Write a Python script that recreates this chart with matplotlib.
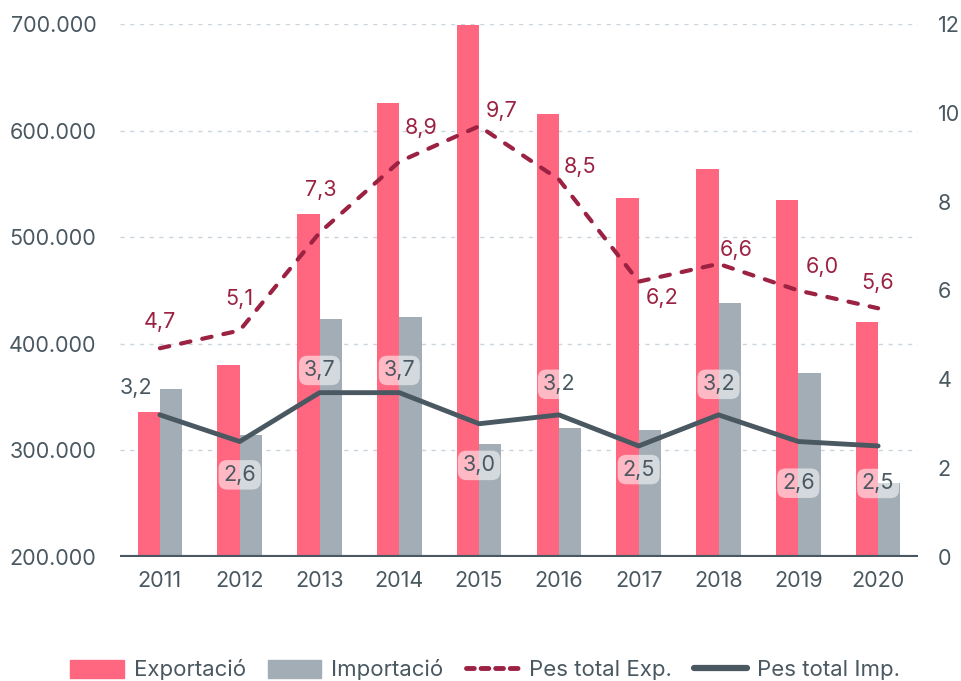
import numpy as np
import matplotlib.pyplot as plt
from matplotlib.patches import Patch
from matplotlib.lines import Line2D
from matplotlib.ticker import FuncFormatter

plt.rcParams['font.family'] = ['Inter', 'DejaVu Sans']

# data
years = ['2011', '2012', '2013', '2014', '2015', '2016', '2017', '2018', '2019', '2020']
exportacio = [336000, 380000, 522000, 626000, 699000, 616000, 537000, 564000, 535000, 420000]
importacio = [358000, 314000, 423000, 425000, 306000, 321000, 319000, 438000, 373000, 269000]
pes_exp = [4.7, 5.1, 7.3, 8.9, 9.7, 8.5, 6.2, 6.6, 6.0, 5.6]
pes_imp = [3.2, 2.6, 3.7, 3.7, 3.0, 3.2, 2.5, 3.2, 2.6, 2.5]

# label offsets (points) and whether import labels have a box
exp_offsets = [(0, 19), (0, 23), (1, 31), (16, 24), (16, 11), (15, 9), (17, -12), (13, 10), (17, 17), (0, 18)]
imp_offsets = [(-17, 19), (0, -24), (0, 16), (0, 16), (0, -30), (0, 22), (0, -17), (0, 22), (0, -30), (0, -27)]
imp_boxed = [False, True, True, True, True, True, True, True, True, True]

c_exp = '#FF6680'
c_imp = '#A2ADB5'
c_pexp = '#9B2242'
c_pimp = '#4A5861'
c_text = '#4A5861'
fs = 15.5

fig = plt.figure(figsize=(9.61, 6.81), dpi=100)
ax = fig.add_axes([120 / 961, 1 - 557 / 681, 798 / 961, 533 / 681])
ax2 = ax.twinx()

x = np.arange(len(years))
w = 0.28
ax.bar(x - w / 2, exportacio, w, color=c_exp, zorder=2)
ax.bar(x + w / 2, importacio, w, color=c_imp, zorder=2)

ax.set_ylim(200000, 700000)
ax.set_xlim(-0.5, 9.5)
ax.set_yticks(range(200000, 700001, 100000))
ax.yaxis.set_major_formatter(FuncFormatter(lambda v, p: f'{int(v):,}'.replace(',', '.')))
ax.set_xticks(x)
ax.set_xticklabels(years)
ax.grid(axis='y', color='#CBD5DD', linestyle=(0, (3, 4)), linewidth=1, zorder=0)
ax.set_axisbelow(True)

for a in (ax, ax2):
    for s in ['top', 'left', 'right', 'bottom']:
        a.spines[s].set_visible(False)
    a.tick_params(length=0, labelsize=fs, labelcolor=c_text)
ax.axhline(200000, color=c_pimp, linewidth=3, zorder=3)
ax.tick_params(axis='y', pad=17)
ax.tick_params(axis='x', pad=10)
ax2.tick_params(axis='y', pad=14)

ax2.set_ylim(0, 12)
ax2.set_yticks(range(0, 13, 2))
ax2.plot(x, pes_exp, color=c_pexp, linewidth=3, linestyle=(0, (2.3, 2.9)),
         dash_capstyle='round', zorder=4)
ax2.plot(x, pes_imp, color=c_pimp, linewidth=3.5, solid_capstyle='round', zorder=4)

for i, v in enumerate(pes_exp):
    ax2.annotate(f'{v:.1f}'.replace('.', ','), (x[i], v), xytext=exp_offsets[i],
                 textcoords='offset points', ha='center', va='center',
                 fontsize=fs, color=c_pexp, zorder=5)
for i, v in enumerate(pes_imp):
    bbox = dict(boxstyle='round,pad=0.22,rounding_size=0.4', fc='white', ec='none', alpha=0.55) if imp_boxed[i] else None
    ax2.annotate(f'{v:.1f}'.replace('.', ','), (x[i], v), xytext=imp_offsets[i],
                 textcoords='offset points', ha='center', va='center',
                 fontsize=fs, color=c_text, bbox=bbox, zorder=5)

handles = [
    Patch(color=c_exp, label='Exportació'),
    Patch(color=c_imp, label='Importació'),
    Line2D([], [], color=c_pexp, linewidth=3.5, linestyle=(0, (1.6, 1.4)),
           dash_capstyle='round', label='Pes total Exp.'),
    Line2D([], [], color=c_pimp, linewidth=4.5, solid_capstyle='round', label='Pes total Imp.'),
]
fig.legend(handles=handles, loc='center', bbox_to_anchor=(0.505, 1 - 670 / 681), ncol=4,
           frameon=False, fontsize=16, labelcolor=c_text, handlelength=2.4,
           handleheight=0.9, columnspacing=1.0, handletextpad=0.45)

fig.savefig('out.png', dpi=100)
